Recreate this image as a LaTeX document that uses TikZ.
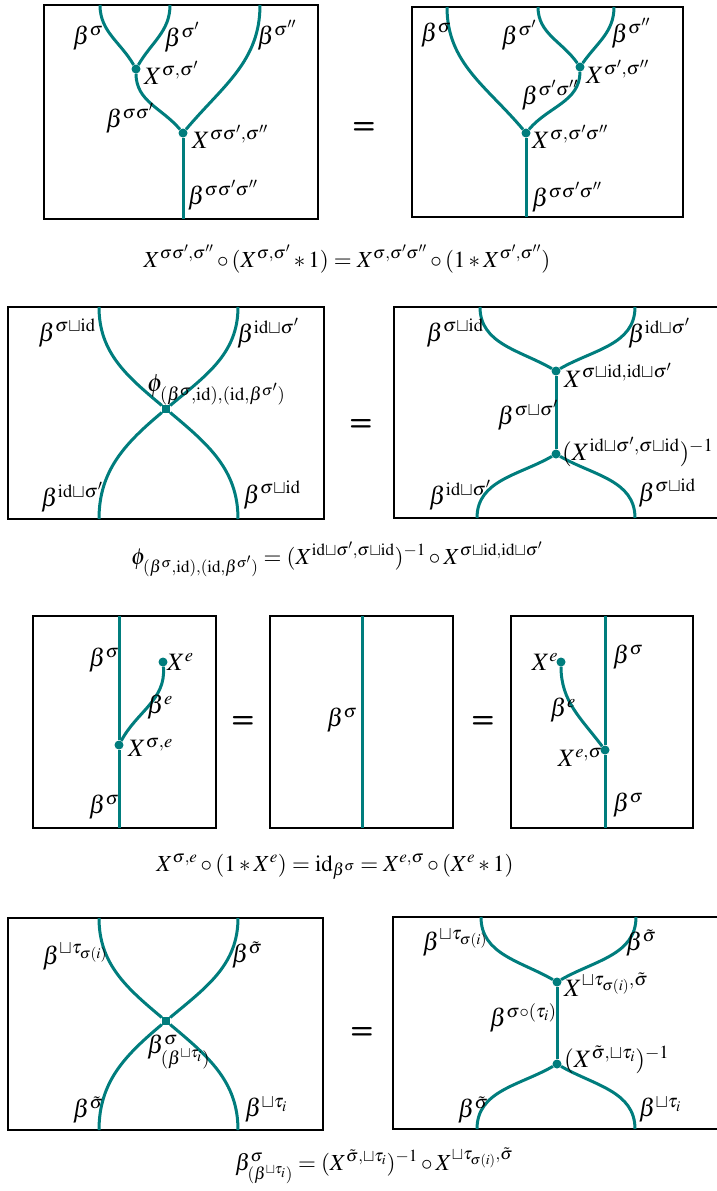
\documentclass[tikz,border=0pt]{standalone}
\usepackage{mathptmx}
\usepackage{tkz-euclide}
\usetikzlibrary{positioning}
\definecolor{StrandClr}{RGB}{0,125,125}
\newcommand{\lblsize}{\fontsize{25}{30}\selectfont}
\newcommand{\capsize}{\fontsize{23}{28}\selectfont}

\begin{document}
\begin{tikzpicture}[x=1pt,y=1pt,
  strand/.style={StrandClr,line width=3pt},
  panel/.style={draw=black,line width=2pt},
  vtx/.style={circle,fill=StrandClr,inner sep=0pt,minimum size=9pt},
  sqvtx/.style={rectangle,fill=StrandClr,inner sep=0pt,minimum size=8pt},
  lbl/.style={inner sep=1pt,font=\lblsize},
  eqsign/.style={inner sep=0pt,font=\fontsize{27}{30}\selectfont\sffamily\bfseries},
  caption/.style={inner sep=0pt,font=\capsize}]
\useasboundingbox (0,0) rectangle (716,-1191);

\draw[panel] (44,-5) rectangle (318,-219);
\draw[panel] (412,-7) rectangle (683,-217);
\draw[panel] (8,-307) rectangle (324,-519);
\draw[panel] (394,-307) rectangle (722,-518);
\draw[panel] (33,-616) rectangle (216,-828);
\draw[panel] (270,-616) rectangle (453,-828);
\draw[panel] (511,-616) rectangle (693,-828);
\draw[panel] (8,-918) rectangle (323,-1130);
\draw[panel] (393,-917) rectangle (722,-1129);

\tkzDefPoints{100/-5/t11,170/-5/t12,260/-5/t13,183/-219/b11}
\tkzDefPoints{447/-7/t21,538/-7/t22,614/-7/t23,526/-217/b21}
\tkzDefPoints{99/-307/t31,238/-307/t32,99/-519/b31,238/-519/b32}
\tkzDefPoints{480/-307/t41,635/-307/t42,477/-518/b41,635/-518/b42}
\tkzDefPoints{119/-616/t51,119/-828/b51,362/-616/t52,362/-828/b52,605/-616/t53,605/-828/b53}
\tkzDefPoints{99/-918/t61,238/-918/t62,99/-1130/b61,238/-1130/b62}
\tkzDefPoints{481/-917/t71,636/-917/t72,477/-1129/b71,635/-1129/b72}

\node[vtx] (v11) at (136,-69) {};
\node[vtx] (v12) at (183,-133) {};
\node[vtx] (v21) at (580,-67) {};
\node[vtx] (v22) at (526,-133) {};
\node[sqvtx] (c31) at (166,-409) {};
\node[vtx] (v41) at (556,-371) {};
\node[vtx] (v42) at (556,-454) {};
\node[vtx] (v51) at (119,-745) {};
\node[vtx] (d51) at (163,-662) {};
\node[vtx] (v53) at (605,-750) {};
\node[vtx] (d53) at (561,-662) {};
\node[sqvtx] (c61) at (166,-1021) {};
\node[vtx] (v71) at (557,-982) {};
\node[vtx] (v72) at (557,-1064) {};

\draw[strand] (t11) to[out=-90,in=120] (v11);
\draw[strand] (t12) to[out=-90,in=60] (v11);
\draw[strand] (v11) to[out=-90,in=130] (v12);
\draw[strand] (t13) to[out=-90,in=50] (v12);
\draw[strand] (v12) -- (b11);

\draw[strand] (t22) to[out=-90,in=125] (v21);
\draw[strand] (t23) to[out=-90,in=55] (v21);
\draw[strand] (v21) to[out=-90,in=50] (v22);
\draw[strand] (t21) to[out=-90,in=130] (v22);
\draw[strand] (v22) -- (b21);

\draw[strand] (t31) to[out=-90,in=140] (c31);
\draw[strand] (t32) to[out=-90,in=40] (c31);
\draw[strand] (c31) to[out=-140,in=90] (b31);
\draw[strand] (c31) to[out=-40,in=90] (b32);

\draw[strand] (t41) to[out=-90,in=150] (v41);
\draw[strand] (t42) to[out=-90,in=30] (v41);
\draw[strand] (v41) -- (v42);
\draw[strand] (v42) to[out=-150,in=90] (b41);
\draw[strand] (v42) to[out=-30,in=90] (b42);

\draw[strand] (t51) -- (v51) -- (b51);
\draw[strand] (v51) to[out=62,in=-85] (d51);
\draw[strand] (t52) -- (b52);
\draw[strand] (t53) -- (v53) -- (b53);
\draw[strand] (d53) to[out=-90,in=127] (v53);

\draw[strand] (t61) to[out=-90,in=140] (c61);
\draw[strand] (t62) to[out=-90,in=40] (c61);
\draw[strand] (c61) to[out=-140,in=90] (b61);
\draw[strand] (c61) to[out=-40,in=90] (b62);

\draw[strand] (t71) to[out=-90,in=150] (v71);
\draw[strand] (t72) to[out=-90,in=30] (v71);
\draw[strand] (v71) -- (v72);
\draw[strand] (v72) to[out=-150,in=90] (b71);
\draw[strand] (v72) to[out=-30,in=90] (b72);

\node[lbl] (l11) at (88,-38) {$\beta^{\sigma}$};
\node[lbl] (l12) at (182,-37) {$\beta^{\sigma'}$};
\node[lbl] (l13) at (277,-35) {$\beta^{\sigma''}$};
\node[lbl,anchor=west] (l14) at (143,-73) {$X^{\sigma,\sigma'}$};
\node[lbl] (l15) at (130,-118) {$\beta^{\sigma\sigma'}$};
\node[lbl,anchor=west] (l16) at (191,-137) {$X^{\sigma\sigma',\sigma''}$};
\node[lbl] (l17) at (223,-195) {$\beta^{\sigma\sigma'\sigma''}$};

\node[lbl] (l21) at (436,-35) {$\beta^{\sigma}$};
\node[lbl] (l22) at (519,-35) {$\beta^{\sigma'}$};
\node[lbl] (l23) at (631,-33) {$\beta^{\sigma''}$};
\node[lbl,anchor=west] (l24) at (585,-72) {$X^{\sigma',\sigma''}$};
\node[lbl] (l25) at (550,-95) {$\beta^{\sigma'\sigma''}$};
\node[lbl,anchor=west] (l26) at (531,-137) {$X^{\sigma,\sigma'\sigma''}$};
\node[lbl] (l27) at (567,-197) {$\beta^{\sigma\sigma'\sigma''}$};

\node[eqsign] (eq1) at (364,-128) {=};
\node[caption,anchor=base] (cap1) at (347,-267) {$X^{\sigma\sigma',\sigma''}\circ(X^{\sigma,\sigma'}\ast 1)=X^{\sigma,\sigma'\sigma''}\circ(1\ast X^{\sigma',\sigma''})$};

\node[lbl] (l31) at (67,-333) {$\beta^{\sigma\sqcup\mathrm{id}}$};
\node[lbl] (l32) at (268,-333) {$\beta^{\mathrm{id}\sqcup\sigma'}$};
\node[lbl,anchor=west] (l33) at (146,-390) {$\phi_{(\beta^{\sigma},\mathrm{id}),(\mathrm{id},\beta^{\sigma'})}$};
\node[lbl] (l34) at (72,-497) {$\beta^{\mathrm{id}\sqcup\sigma'}$};
\node[lbl] (l35) at (272,-495) {$\beta^{\sigma\sqcup\mathrm{id}}$};

\node[lbl] (l41) at (455,-333) {$\beta^{\sigma\sqcup\mathrm{id}}$};
\node[lbl] (l42) at (659,-333) {$\beta^{\mathrm{id}\sqcup\sigma'}$};
\node[lbl,anchor=west] (l43) at (563,-375) {$X^{\sigma\sqcup\mathrm{id},\mathrm{id}\sqcup\sigma'}$};
\node[lbl] (l44) at (528,-415) {$\beta^{\sigma\sqcup\sigma'}$};
\node[lbl,anchor=west] (l45) at (561,-452) {$(X^{\mathrm{id}\sqcup\sigma',\sigma\sqcup\mathrm{id}})^{-1}$};
\node[lbl] (l46) at (460,-495) {$\beta^{\mathrm{id}\sqcup\sigma'}$};
\node[lbl] (l47) at (667,-493) {$\beta^{\sigma\sqcup\mathrm{id}}$};

\node[eqsign] (eq2) at (361,-425) {=};
\node[caption,anchor=base] (cap2) at (337,-564) {$\phi_{(\beta^{\sigma},\mathrm{id}),(\mathrm{id},\beta^{\sigma'})}=(X^{\mathrm{id}\sqcup\sigma',\sigma\sqcup\mathrm{id}})^{-1}\circ X^{\sigma\sqcup\mathrm{id},\mathrm{id}\sqcup\sigma'}$};

\node[lbl] (l51) at (104,-660) {$\beta^{\sigma}$};
\node[lbl,anchor=west] (l52) at (166,-662) {$X^{e}$};
\node[lbl] (l53) at (160,-707) {$\beta^{e}$};
\node[lbl,anchor=west] (l54) at (127,-747) {$X^{\sigma,e}$};
\node[lbl] (l55) at (104,-807) {$\beta^{\sigma}$};
\node[lbl] (l56) at (342,-720) {$\beta^{\sigma}$};
\node[lbl] (l57) at (545,-662) {$X^{e}$};
\node[lbl] (l58) at (628,-657) {$\beta^{\sigma}$};
\node[lbl] (l59) at (563,-710) {$\beta^{e}$};
\node[lbl] (l510) at (580,-757) {$X^{e,\sigma}$};
\node[lbl] (l511) at (628,-805) {$\beta^{\sigma}$};

\node[eqsign] (eq3) at (243,-722) {=};
\node[eqsign] (eq4) at (483,-722) {=};
\node[caption,anchor=base] (cap3) at (335,-871) {$X^{\sigma,e}\circ(1\ast X^{e})=\mathrm{id}_{\beta^{\sigma}}=X^{e,\sigma}\circ(X^{e}\ast 1)$};

\node[lbl] (l61) at (75,-957) {$\beta^{\sqcup\tau_{\sigma(i)}}$};
\node[lbl] (l62) at (247,-955) {$\beta^{\tilde{\sigma}}$};
\node[lbl,anchor=west] (l63) at (146,-1052) {$\beta^{\sigma}_{(\beta^{\sqcup\tau_i})}$};
\node[lbl] (l64) at (88,-1110) {$\beta^{\tilde{\sigma}}$};
\node[lbl] (l65) at (266,-1110) {$\beta^{\sqcup\tau_i}$};

\node[lbl] (l71) at (455,-943) {$\beta^{\sqcup\tau_{\sigma(i)}}$};
\node[lbl] (l72) at (641,-943) {$\beta^{\tilde{\sigma}}$};
\node[lbl,anchor=west] (l73) at (563,-985) {$X^{\sqcup\tau_{\sigma(i)},\tilde{\sigma}}$};
\node[lbl] (l74) at (523,-1018) {$\beta^{\sigma\circ(\tau_i)}$};
\node[lbl,anchor=west] (l75) at (563,-1060) {$(X^{\tilde{\sigma},\sqcup\tau_i})^{-1}$};
\node[lbl] (l76) at (473,-1110) {$\beta^{\tilde{\sigma}}$};
\node[lbl] (l77) at (660,-1110) {$\beta^{\sqcup\tau_i}$};

\node[eqsign] (eq5) at (362,-1033) {=};
\node[caption,anchor=base] (cap4) at (374,-1170) {$\beta^{\sigma}_{(\beta^{\sqcup\tau_i})}=(X^{\tilde{\sigma},\sqcup\tau_i})^{-1}\circ X^{\sqcup\tau_{\sigma(i)},\tilde{\sigma}}$};

\end{tikzpicture}
\end{document}
